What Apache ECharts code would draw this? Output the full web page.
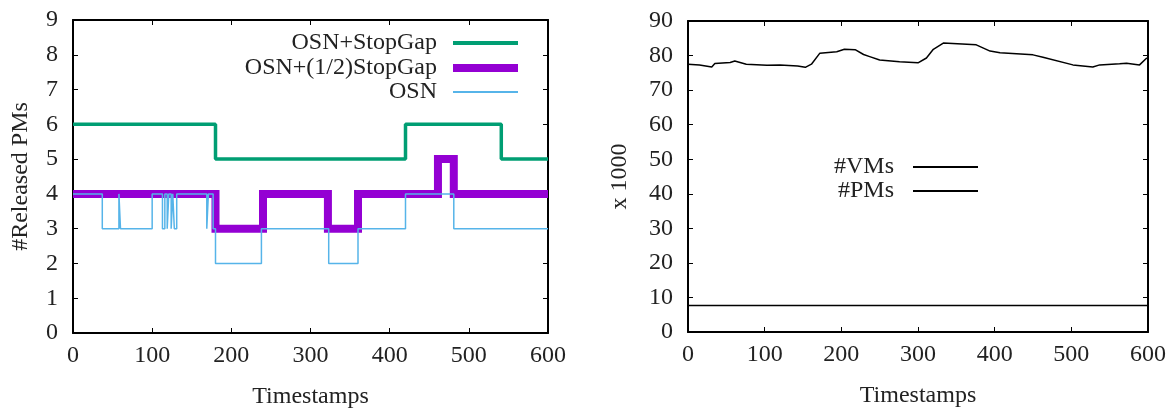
<!DOCTYPE html>
<html>
<head>
<meta charset="utf-8">
<script src="https://cdn.jsdelivr.net/npm/echarts@6/dist/echarts.min.js"></script>
<style>
  html, body { margin: 0; padding: 0; background: #fff; }
  #chart { width: 1173px; height: 416px; }
</style>
</head>
<body>
<div id="chart"></div>
<script>
// left panel: released PMs over time, [timestamp, value] at each change
var stopGap = [[0, 6], [180, 5], [420, 6], [541, 5], [600, 5]];
var halfStopGap = [[0, 4], [180, 3], [240, 4], [322, 3], [360, 4], [461, 5], [481, 4], [600, 4]];
var osn = [[0, 4], [37, 3], [58, 4], [60, 3], [100, 4], [113, 3], [116, 4], [119, 3], [121, 4], [124, 3],
           [126, 4], [128, 3], [131, 4], [169, 3], [171, 4], [177, 3], [180, 2], [238, 3], [323, 2],
           [360, 3], [420, 4], [481, 3], [600, 3]];

// right panel: VMs and PMs (x 1000)
var vms = [[0, 77.5], [15, 77.3], [31, 76.7], [35, 77.7], [55, 78.0], [61, 78.4], [76, 77.5], [103, 77.2],
           [120, 77.3], [143, 77.0], [153, 76.6], [161, 77.5], [172, 80.7], [194, 81.1], [204, 81.8],
           [218, 81.7], [229, 80.3], [237, 79.7], [250, 78.7], [276, 78.2], [300, 77.9], [311, 79.3],
           [320, 81.8], [333, 83.6], [376, 83.1], [394, 81.3], [407, 80.8], [450, 80.2], [463, 79.5],
           [502, 77.3], [528, 76.7], [537, 77.3], [563, 77.6], [572, 77.8], [589, 77.3], [598, 79.2], [600, 79.4]];
var pms = [[0, 7.7], [600, 7.7]];

var xTicks = [0, 600, 100];
var leftY = [0, 9, 1];
var rightY = [0, 90, 10];

var font = 'Liberation Serif';
var ink = '#222';
var fs = 24;

function xAxisOf(grid, show) {
  return {
    type: 'value', gridIndex: grid, min: xTicks[0], max: xTicks[1], interval: xTicks[2],
    position: show ? 'bottom' : 'top',
    name: show ? 'Timestamps' : '', nameLocation: 'middle', nameGap: 52,
    nameTextStyle: { fontFamily: font, fontSize: fs, color: ink },
    axisLine: { show: true, onZero: false, lineStyle: { color: '#000', width: 2 } },
    axisTick: { show: true, inside: true, length: 5, lineStyle: { color: '#000' } },
    axisLabel: { show: show, fontFamily: font, fontSize: fs, color: ink, margin: 11 },
    splitLine: { show: false }
  };
}

function yAxisOf(grid, range, name, show, gap) {
  return {
    type: 'value', gridIndex: grid, min: range[0], max: range[1], interval: range[2],
    position: show ? 'left' : 'right',
    name: show ? name : '', nameLocation: 'middle', nameGap: gap,
    nameTextStyle: { fontFamily: font, fontSize: fs, color: ink },
    axisLine: { show: true, onZero: false, lineStyle: { color: '#000', width: 2 } },
    axisTick: { show: true, inside: true, length: 5, lineStyle: { color: '#000' } },
    axisLabel: { show: show, fontFamily: font, fontSize: fs, color: ink, margin: 15 },
    splitLine: { show: false }
  };
}

function legendOf(name, right, top, h, pad) {
  return {
    data: [name], right: right, top: top, align: 'right', padding: 0,
    itemWidth: 65, itemHeight: h, icon: 'rect', selectedMode: false,
    textStyle: { fontFamily: font, fontSize: fs, color: ink, padding: [0, pad, 0, 0] }
  };
}

var chart = echarts.init(document.getElementById('chart'));
chart.setOption({
  animation: false,
  grid: [
    { left: 73, right: 625, top: 20, bottom: 83 },
    { left: 688, right: 25, top: 21, bottom: 84 }
  ],
  xAxis: [xAxisOf(0, true), xAxisOf(0, false), xAxisOf(1, true), xAxisOf(1, false)],
  yAxis: [
    yAxisOf(0, leftY, '#Released PMs', true, 40),
    yAxisOf(0, leftY, '', false, 0),
    yAxisOf(1, rightY, 'x 1000', true, 56),
    yAxisOf(1, rightY, '', false, 0)
  ],
  legend: [
    legendOf('OSN+StopGap', 655, 31, 4, 11),
    legendOf('OSN+(1/2)StopGap', 655, 56, 8, 11),
    legendOf('OSN', 655, 80, 2, 11),
    legendOf('#VMs', 195, 155, 2, 14),
    legendOf('#PMs', 195, 179, 2, 14)
  ],
  series: [
    { name: 'OSN+StopGap', type: 'line', step: 'end', xAxisIndex: 0, yAxisIndex: 0, data: stopGap,
      showSymbol: false, color: '#009e73', lineStyle: { width: 3.5 }, z: 2 },
    { name: 'OSN+(1/2)StopGap', type: 'line', step: 'end', xAxisIndex: 0, yAxisIndex: 0, data: halfStopGap,
      showSymbol: false, color: '#9400d3', lineStyle: { width: 8, join: 'miter', cap: 'butt' }, z: 3 },
    { name: 'OSN', type: 'line', step: 'end', xAxisIndex: 0, yAxisIndex: 0, data: osn,
      showSymbol: false, color: '#56b4e9', lineStyle: { width: 1.5 }, z: 4 },
    { name: '#VMs', type: 'line', xAxisIndex: 2, yAxisIndex: 2, data: vms,
      showSymbol: false, color: '#000', lineStyle: { width: 1.5 } },
    { name: '#PMs', type: 'line', xAxisIndex: 2, yAxisIndex: 2, data: pms,
      showSymbol: false, color: '#000', lineStyle: { width: 1.5 } }
  ]
});
</script>
</body>
</html>
